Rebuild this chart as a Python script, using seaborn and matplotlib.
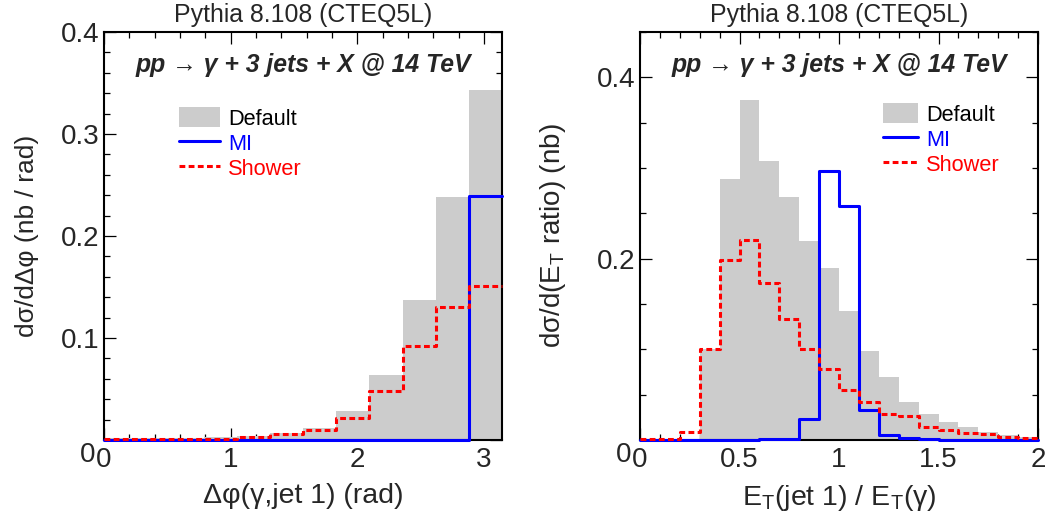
import numpy as np
import matplotlib
matplotlib.use("Agg")
import matplotlib.pyplot as plt
from matplotlib.lines import Line2D
from matplotlib.patches import Patch
from matplotlib.ticker import MultipleLocator, FuncFormatter
import seaborn as sns

# Delta phi(gamma, jet 1): 12 bins from 0 to pi
phi_edges = np.linspace(0, np.pi, 13)
phi_default = [0.002, 0.002, 0.002, 0.003, 0.004, 0.007, 0.0115, 0.028, 0.064, 0.137, 0.238, 0.343]
phi_mi = [0, 0, 0, 0, 0, 0, 0, 0, 0, 0, 0, 0.239]
phi_shower = [0.001, 0.001, 0.001, 0.0012, 0.003, 0.0056, 0.0098, 0.022, 0.048, 0.0925, 0.130, 0.151]

# E_T(jet 1) / E_T(gamma): 20 bins from 0 to 2
ratio_edges = np.linspace(0, 2, 21)
ratio_default = [0, 0, 0.001, 0.100, 0.288, 0.375, 0.308, 0.268, 0.220, 0.190,
                 0.142, 0.0985, 0.070, 0.042, 0.0287, 0.0195, 0.014, 0.0085, 0.0055, 0.0037]
ratio_mi = [0, 0, 0, 0, 0, 0.0005, 0.0012, 0.0015, 0.0228, 0.2967,
            0.2584, 0.033, 0.0055, 0.002, 0.001, 0.0005, 0, 0, 0, 0]
ratio_shower = [0.001, 0.001, 0.009, 0.100, 0.199, 0.2206, 0.173, 0.133, 0.1007, 0.078,
                0.055, 0.042, 0.029, 0.027, 0.0147, 0.011, 0.008, 0.0062, 0.0037, 0.0026]

labels = ["Default", "MI", "Shower"]
title = "Pythia 8.108 (CTEQ5L)"
process = "pp → γ + 3 jets + X @ 14 TeV"

sns.set_style("ticks")
plt.rcParams['font.family'] = ['Liberation Sans', 'DejaVu Sans']
plt.rcParams['mathtext.fontset'] = 'custom'
plt.rcParams['mathtext.rm'] = 'Liberation Sans'
plt.rcParams['mathtext.it'] = 'Liberation Sans:italic'
plt.rcParams['mathtext.bf'] = 'Liberation Sans:bold'

GREY = '#cccccc'
DASH = (0, (1.9, 1.1))


def x_fmt(v, pos):
    return '0' if abs(v) < 1e-9 else f'{v:g}'


def y_fmt(v, pos):
    # the y "0" is drawn separately, just below the axis line (ROOT style)
    return '' if abs(v) < 1e-9 else f'{v:g}'


def step_line(ax, edges, vals, z, **kw):
    # outline of a histogram: repeat the last bin so the step reaches the edge
    sns.lineplot(x=list(edges), y=list(vals) + [vals[-1]], drawstyle='steps-post',
                 linewidth=2.2, ax=ax, **kw)
    line = ax.lines[-1]
    line.set_zorder(z)      # above the frame, like the ROOT drawing
    line.set_clip_on(False)


def draw_panel(ax, edges, default, mi, shower):
    centers = (edges[:-1] + edges[1:]) / 2
    sns.histplot(x=centers, weights=default, bins=list(edges), element='step', fill=True,
                 color=GREY, alpha=1, linewidth=0, ax=ax)
    step_line(ax, edges, mi, 10, color='blue')
    step_line(ax, edges, shower, 11, color='red', linestyle=DASH)
    ax.set_title(title, fontsize=17.9, pad=7)
    ax.text(0.5, 0.919, process, transform=ax.transAxes, ha='center', va='center',
            fontsize=17.8, fontweight='bold', fontstyle='italic')
    ax.tick_params(which='both', direction='in', top=True, right=True, labelsize=20,
                   width=0.9, color='black')
    ax.tick_params(which='major', length=8.5)
    ax.tick_params(which='minor', length=4.3)
    ax.tick_params(axis='x', pad=5)
    ax.tick_params(axis='y', pad=3)
    ax.xaxis.set_major_formatter(FuncFormatter(x_fmt))
    ax.yaxis.set_major_formatter(FuncFormatter(y_fmt))
    ax.annotate('0', xy=(0, 0), xycoords='axes fraction', xytext=(-6, -1.5),
                textcoords='offset points', ha='right', va='top', fontsize=20)
    for s in ax.spines.values():
        s.set_linewidth(1.5)
        s.set_color('black')


def add_legend(ax, x, y, hlen):
    handles = [Patch(facecolor=GREY, edgecolor='none'),
               Line2D([], [], color='blue', linewidth=2.2),
               Line2D([], [], color='red', linewidth=2.2, linestyle=DASH)]
    ax.legend(handles, labels, loc='upper left', bbox_to_anchor=(x, y), frameon=False,
              fontsize=15.7, handlelength=hlen, handleheight=1.0, handletextpad=0.36,
              labelspacing=0.13, borderpad=0, borderaxespad=0,
              labelcolor=['black', 'blue', 'red'])


fig = plt.figure(figsize=(10.56, 5.18), dpi=100)
ax1 = fig.add_axes([0.0985, 0.1506, 0.3769, 0.7876])
ax2 = fig.add_axes([0.6061, 0.1506, 0.3769, 0.7876])

draw_panel(ax1, phi_edges, phi_default, phi_mi, phi_shower)
ax1.set_xlim(0, np.pi)
ax1.set_ylim(0, 0.4)
ax1.xaxis.set_major_locator(MultipleLocator(1))
ax1.xaxis.set_minor_locator(MultipleLocator(0.2))
ax1.yaxis.set_major_locator(MultipleLocator(0.1))
ax1.yaxis.set_minor_locator(MultipleLocator(0.02))
ax1.set_xlabel("Δφ(γ,jet 1) (rad)", fontsize=20.5)
ax1.set_ylabel("dσ/dΔφ (nb / rad)", fontsize=19)
ax1.xaxis.set_label_coords(0.5, -0.105)
ax1.yaxis.set_label_coords(-0.163, 0.5)
add_legend(ax1, 0.188, 0.815, 1.9)

draw_panel(ax2, ratio_edges, ratio_default, ratio_mi, ratio_shower)
ax2.set_xlim(0, 2)
ax2.set_ylim(0, 0.45)
ax2.xaxis.set_major_locator(MultipleLocator(0.5))
ax2.xaxis.set_minor_locator(MultipleLocator(0.1))
ax2.yaxis.set_major_locator(MultipleLocator(0.2))
ax2.yaxis.set_minor_locator(MultipleLocator(0.05))
ax2.set_xlabel(r"E$_\mathrm{T}$(jet 1) / E$_\mathrm{T}$(γ)", fontsize=20.5)
ax2.set_ylabel(r"dσ/d(E$_\mathrm{T}$ ratio) (nb)", fontsize=20)
ax2.xaxis.set_label_coords(0.5, -0.105)
ax2.yaxis.set_label_coords(-0.18, 0.5)
add_legend(ax2, 0.611, 0.825, 1.6)

fig.savefig("out.png", dpi=100)
